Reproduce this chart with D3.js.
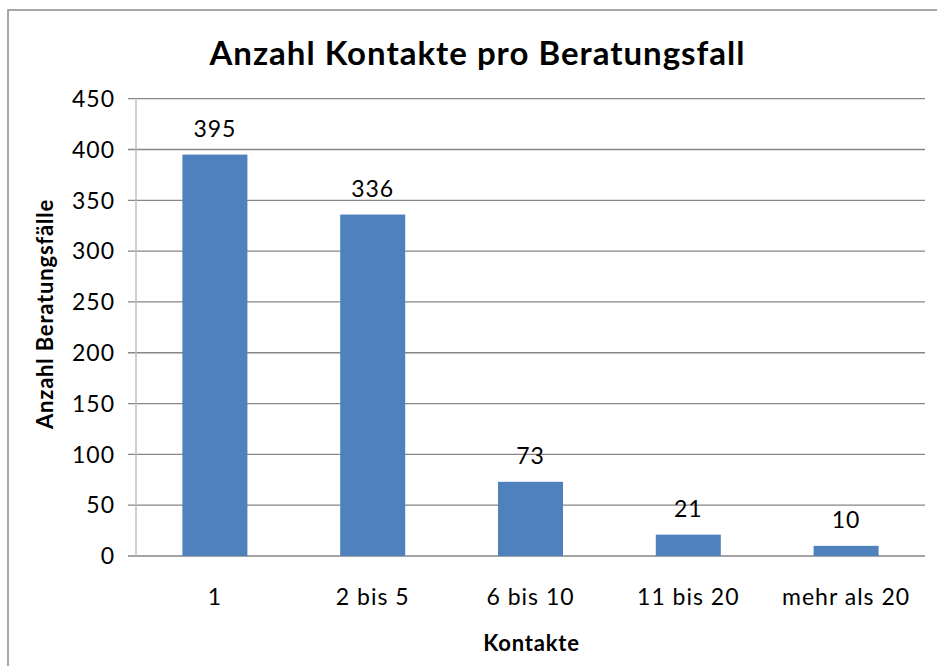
<!DOCTYPE html>
<html lang="de">
<head>
	<meta charset="utf-8">
	<title>Anzahl Kontakte pro Beratungsfall</title>
	<script src="https://cdnjs.cloudflare.com/ajax/libs/d3/7.8.5/d3.min.js"></script>
	<style>
		body { margin: 0; background: #fff; }
		svg text { font-family: Lato, "Open Sans", sans-serif; fill: #000; }
		.grid line { stroke: #868686; stroke-width: 1.3; }
		.bar { fill: #4F81BD; }
		.lab { font-size: 23px; letter-spacing: 1px; }
		.axtitle { font-size: 22px; font-weight: bold; letter-spacing: 0.8px; }
	</style>
</head>
<body>
	<div id="chart"></div>
	<script>
	// data
	var categories = ["1", "2 bis 5", "6 bis 10", "11 bis 20", "mehr als 20"];
	var values = [395, 336, 73, 21, 10];
	var yTicks = [0, 50, 100, 150, 200, 250, 300, 350, 400, 450];

	var w = 937, h = 666;
	var plotL = 136, plotR = 925, plotT = 98.7, plotB = 556;

	var svg = d3.select("#chart")
		.append("svg")
		.attr("width", w)
		.attr("height", h);

	// chart frame (runs off the page on right and bottom)
	svg.append("rect")
		.attr("x", 8).attr("y", 10)
		.attr("width", 960).attr("height", 700)
		.attr("fill", "none")
		.attr("stroke", "#8c8c8c")
		.attr("stroke-width", 1.5);

	var x = d3.scaleBand().domain(categories).range([plotL, plotR]).padding(0);
	var y = d3.scaleLinear().domain([0, 450]).range([plotB, plotT]);

	// gridlines + tick marks
	var grid = svg.append("g").attr("class", "grid");
	grid.selectAll("line")
		.data(yTicks)
		.enter()
		.append("line")
		.attr("x1", plotL - 8)
		.attr("x2", plotR)
		.attr("y1", function(d) { return y(d); })
		.attr("y2", function(d) { return y(d); });

	// y axis line
	svg.append("line")
		.attr("x1", plotL).attr("x2", plotL)
		.attr("y1", plotT).attr("y2", plotB)
		.attr("stroke", "#bfbfbf")
		.attr("stroke-width", 1.5);

	// y tick labels
	svg.selectAll(".ylab")
		.data(yTicks)
		.enter()
		.append("text")
		.attr("class", "ylab lab")
		.attr("x", 115)
		.attr("y", function(d) { return y(d); })
		.attr("dy", "0.36em")
		.attr("text-anchor", "end")
		.text(function(d) { return d; });

	// bars
	var bw = x.bandwidth() * 0.412;
	svg.selectAll(".bar")
		.data(values)
		.enter()
		.append("rect")
		.attr("class", "bar")
		.attr("x", function(d, i) { return x(categories[i]) + (x.bandwidth() - bw) / 2; })
		.attr("y", function(d) { return y(d); })
		.attr("width", bw)
		.attr("height", function(d) { return plotB - y(d); });

	// value labels
	svg.selectAll(".vlab")
		.data(values)
		.enter()
		.append("text")
		.attr("class", "vlab lab")
		.attr("x", function(d, i) { return x(categories[i]) + x.bandwidth() / 2; })
		.attr("y", function(d) { return y(d) - 18; })
		.attr("text-anchor", "middle")
		.text(function(d) { return d; });

	// category labels
	svg.selectAll(".xlab")
		.data(categories)
		.enter()
		.append("text")
		.attr("class", "xlab lab")
		.attr("x", function(d) { return x(d) + x.bandwidth() / 2; })
		.attr("y", 605)
		.attr("text-anchor", "middle")
		.text(function(d) { return d; });

	// titles
	svg.append("text")
		.attr("x", 477.5).attr("y", 65)
		.attr("text-anchor", "middle")
		.attr("font-size", "33px")
		.style("letter-spacing", "1px")
		.style("font-weight", "bold")
		.text("Anzahl Kontakte pro Beratungsfall");

	svg.append("text")
		.attr("class", "axtitle")
		.attr("x", 531.5).attr("y", 651)
		.attr("text-anchor", "middle")
		.text("Kontakte");

	svg.append("text")
		.attr("class", "axtitle")
		.attr("transform", "translate(53,314) rotate(-90)")
		.attr("text-anchor", "middle")
		.text("Anzahl Beratungsfälle");
	</script>
</body>
</html>
